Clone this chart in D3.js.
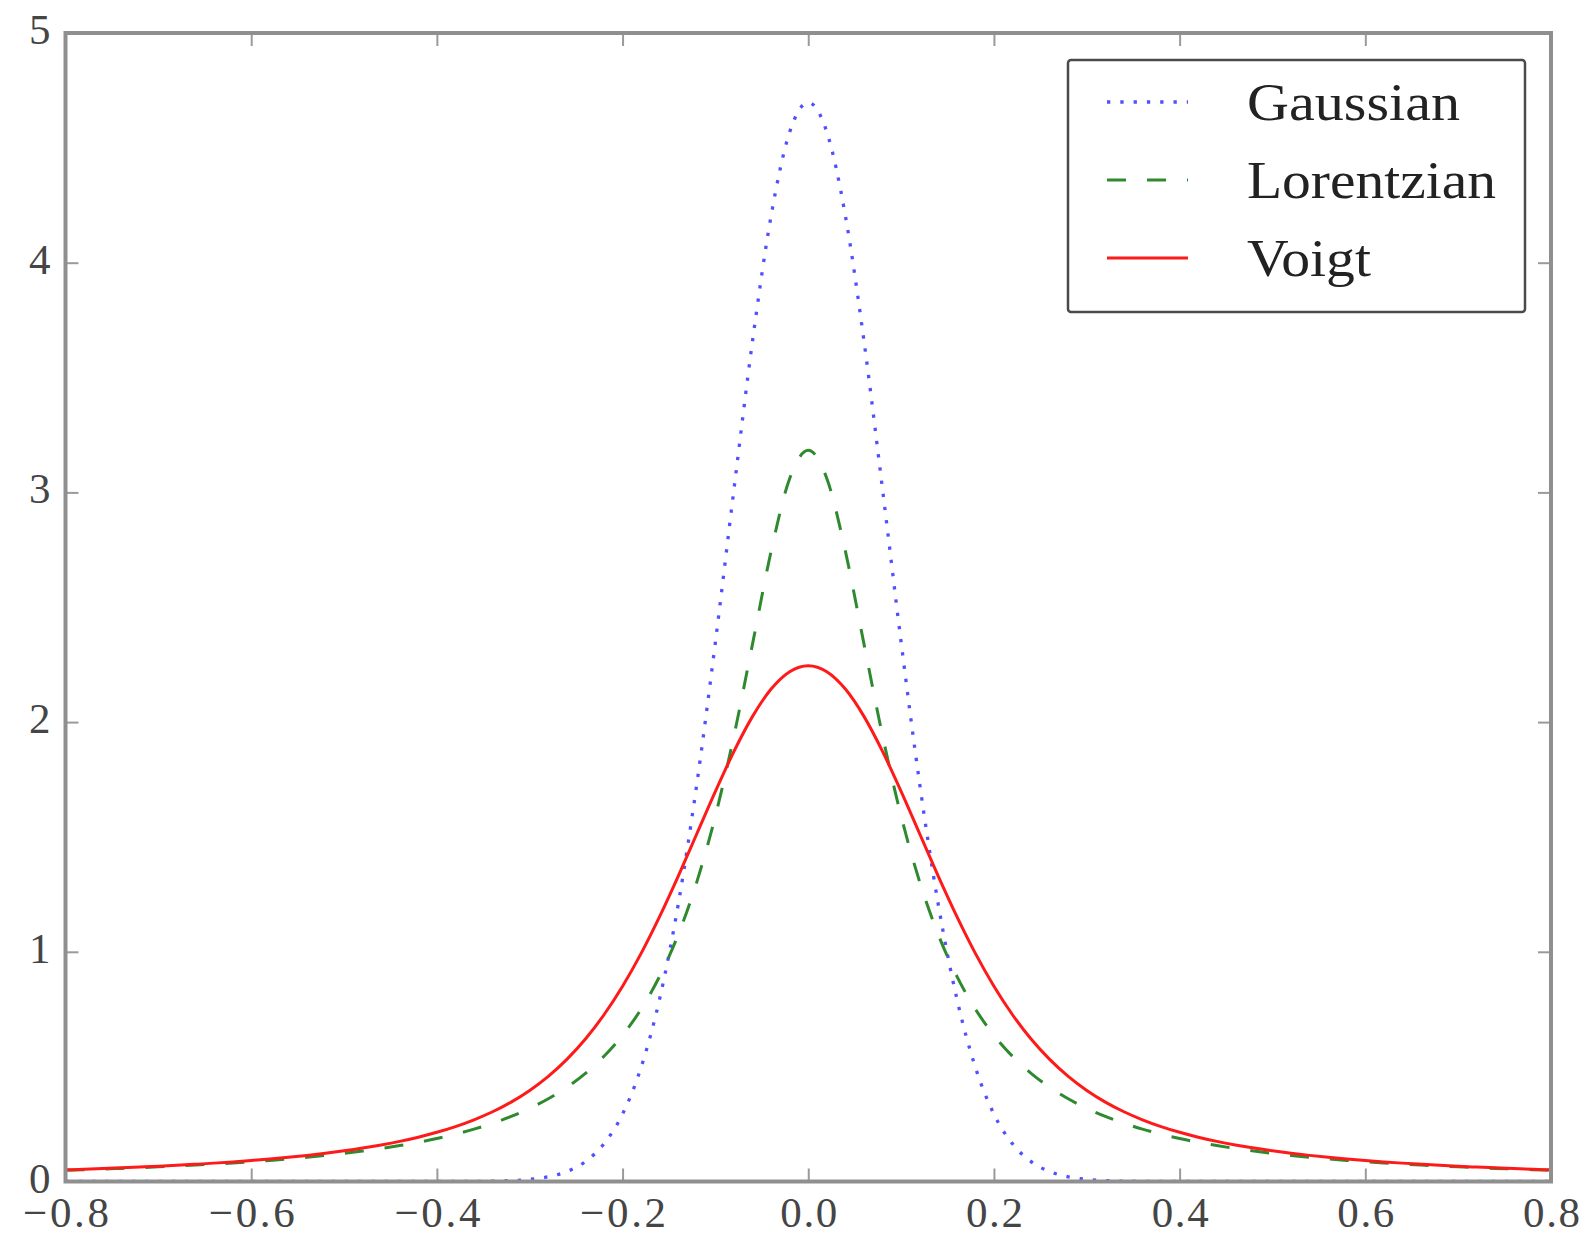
<!DOCTYPE html>
<html>
<head>
<meta charset="utf-8">
<script src="https://cdn.jsdelivr.net/npm/d3@7"></script>
<style>
  html, body { margin: 0; padding: 0; background: #ffffff; }
  svg { display: block; }
  text { font-family: "Liberation Serif", "DejaVu Serif", serif; }
</style>
</head>
<body>
<svg id="chart" width="1585" height="1236"></svg>
<script>
// ---------------- data ----------------
const xValues = [
  -0.80,-0.78,-0.76,-0.74,-0.72,-0.70,-0.68,-0.66,-0.64,-0.62,
  -0.60,-0.58,-0.56,-0.54,-0.52,-0.50,-0.48,-0.46,-0.44,-0.42,
  -0.40,-0.38,-0.36,-0.34,-0.32,-0.30,-0.28,-0.26,-0.24,-0.22,
  -0.20,-0.18,-0.16,-0.14,-0.12,-0.10,-0.08,-0.06,-0.04,-0.02,
   0.00,
   0.02, 0.04, 0.06, 0.08, 0.10, 0.12, 0.14, 0.16, 0.18, 0.20,
   0.22, 0.24, 0.26, 0.28, 0.30, 0.32, 0.34, 0.36, 0.38, 0.40,
   0.42, 0.44, 0.46, 0.48, 0.50, 0.52, 0.54, 0.56, 0.58, 0.60,
   0.62, 0.64, 0.66, 0.68, 0.70, 0.72, 0.74, 0.76, 0.78, 0.80
];

const gaussian = [
  0,0,0,0,0,0,0,0,0,0,
  0,0,0,0,0,0,0,0,0,0,
  0.0001,0.0002,0.0006,0.0016,0.0039,0.0092,0.0205,0.0433,0.0867,0.1640,
  0.2936,0.4972,0.7966,1.2074,1.7313,2.3487,3.0142,3.6600,4.2042,4.5689,
  4.6973,
  4.5689,4.2042,3.6600,3.0142,2.3487,1.7313,1.2074,0.7966,0.4972,0.2936,
  0.1640,0.0867,0.0433,0.0205,0.0092,0.0039,0.0016,0.0006,0.0002,0.0001,
  0,0,0,0,0,0,0,0,0,0,
  0,0,0,0,0,0,0,0,0,0
];

const lorentzian = [
  0.0490,0.0515,0.0542,0.0571,0.0602,0.0637,0.0674,0.0714,0.0759,0.0807,
  0.0860,0.0919,0.0984,0.1055,0.1135,0.1224,0.1324,0.1436,0.1563,0.1708,
  0.1872,0.2062,0.2280,0.2534,0.2832,0.3183,0.3601,0.4102,0.4709,0.5451,
  0.6366,0.7507,0.8941,1.0754,1.3046,1.5915,1.9409,2.3405,2.7441,3.0607,
  3.1831,
  3.0607,2.7441,2.3405,1.9409,1.5915,1.3046,1.0754,0.8941,0.7507,0.6366,
  0.5451,0.4709,0.4102,0.3601,0.3183,0.2832,0.2534,0.2280,0.2062,0.1872,
  0.1708,0.1563,0.1436,0.1324,0.1224,0.1135,0.1055,0.0984,0.0919,0.0860,
  0.0807,0.0759,0.0714,0.0674,0.0637,0.0602,0.0571,0.0542,0.0515,0.0490
];

const voigt = [
  0.0507,0.0533,0.0562,0.0594,0.0628,0.0665,0.0706,0.0751,0.0800,0.0854,
  0.0914,0.0980,0.1054,0.1137,0.1230,0.1335,0.1455,0.1592,0.1748,0.1930,
  0.2142,0.2391,0.2686,0.3036,0.3457,0.3964,0.4576,0.5315,0.6202,0.7260,
  0.8502,0.9933,1.1543,1.3298,1.5139,1.6983,1.8725,2.0249,2.1438,2.2196,
  2.2456,
  2.2196,2.1438,2.0249,1.8725,1.6983,1.5139,1.3298,1.1543,0.9933,0.8502,
  0.7260,0.6202,0.5315,0.4576,0.3964,0.3457,0.3036,0.2686,0.2391,0.2142,
  0.1930,0.1748,0.1592,0.1455,0.1335,0.1230,0.1137,0.1054,0.0980,0.0914,
  0.0854,0.0800,0.0751,0.0706,0.0665,0.0628,0.0594,0.0562,0.0533,0.0507
];

const seriesNames = ["Gaussian", "Lorentzian", "Voigt"];
const xTickValues = [-0.8, -0.6, -0.4, -0.2, 0.0, 0.2, 0.4, 0.6, 0.8];
const xTickLabels = ["\u22120.8", "\u22120.6", "\u22120.4", "\u22120.2", "0.0", "0.2", "0.4", "0.6", "0.8"];
const yTickValues = [0, 1, 2, 3, 4, 5];
const yTickLabels = ["0", "1", "2", "3", "4", "5"];

// ---------------- layout / style ----------------
const W = 1585, H = 1236;
const plot = { left: 65.5, right: 1551, top: 33, bottom: 1181.5 };
const frameColor = "#8f8f8f";
const tickColor = "#9a9a9a";
const textColor = "#454545";

const styles = {
  Gaussian:   { color: "#5050ff", width: 3.3, dash: "3.3,10" },
  Lorentzian: { color: "#2f8a2f", width: 3,   dash: "19,21" },
  Voigt:      { color: "#ff1a1a", width: 3,   dash: null }
};

const svg = d3.select("#chart");
svg.append("rect").attr("width", W).attr("height", H).attr("fill", "#ffffff");

const x = d3.scaleLinear().domain([-0.8, 0.8]).range([plot.left, plot.right]);
const y = d3.scaleLinear().domain([0, 5]).range([plot.bottom, plot.top]);

// clip
svg.append("defs").append("clipPath").attr("id", "clip")
  .append("rect")
  .attr("x", plot.left).attr("y", plot.top)
  .attr("width", plot.right - plot.left).attr("height", plot.bottom - plot.top);

// ---------------- curves ----------------
const seriesData = { Gaussian: gaussian, Lorentzian: lorentzian, Voigt: voigt };
const line = d3.line()
  .x(d => x(d[0]))
  .y(d => y(d[1]))
  .curve(d3.curveMonotoneX);

const curves = svg.append("g").attr("clip-path", "url(#clip)");
seriesNames.forEach(name => {
  const pts = xValues.map((xv, i) => [xv, seriesData[name][i]]);
  const st = styles[name];
  const p = curves.append("path")
    .datum(pts)
    .attr("d", line)
    .attr("fill", "none")
    .attr("stroke", st.color)
    .attr("stroke-width", st.width)
    .attr("stroke-linejoin", "round");
  if (st.dash) p.attr("stroke-dasharray", st.dash).attr("stroke-linecap", "butt");
});

// ---------------- axes (inward ticks on all four sides) ----------------
const tickLen = 13;
function styleAxis(g) {
  g.select(".domain").remove();
  g.selectAll(".tick line").attr("stroke", tickColor).attr("stroke-width", 2);
  g.selectAll(".tick text").attr("fill", textColor)
    .style("font-family", "'Liberation Serif', 'DejaVu Serif', serif")
    .style("font-size", "43px");
}

const labelMapX = new Map(xTickValues.map((v, i) => [v, xTickLabels[i]]));
const labelMapY = new Map(yTickValues.map((v, i) => [v, yTickLabels[i]]));

const gBottom = svg.append("g")
  .attr("transform", `translate(0,${plot.bottom})`)
  .call(d3.axisBottom(x).tickValues(xTickValues).tickSize(-tickLen)
        .tickFormat(v => labelMapX.get(v)));
styleAxis(gBottom);
gBottom.selectAll(".tick text")
  .attr("y", 45).attr("dy", 0)
  .attr("textLength", v => v < 0 ? 86 : 57)
  .attr("lengthAdjust", "spacing");

const gTop = svg.append("g")
  .attr("transform", `translate(0,${plot.top})`)
  .call(d3.axisTop(x).tickValues(xTickValues).tickSize(-tickLen).tickFormat(""));
styleAxis(gTop);

const gLeft = svg.append("g")
  .attr("transform", `translate(${plot.left},0)`)
  .call(d3.axisLeft(y).tickValues(yTickValues).tickSize(-tickLen)
        .tickFormat(v => labelMapY.get(v)));
styleAxis(gLeft);
gLeft.selectAll(".tick text").attr("x", -15).attr("dy", 0).attr("y", 10.5);

const gRight = svg.append("g")
  .attr("transform", `translate(${plot.right},0)`)
  .call(d3.axisRight(y).tickValues(yTickValues).tickSize(-tickLen).tickFormat(""));
styleAxis(gRight);

// frame
svg.append("rect")
  .attr("x", plot.left).attr("y", plot.top)
  .attr("width", plot.right - plot.left).attr("height", plot.bottom - plot.top)
  .attr("fill", "none").attr("stroke", frameColor).attr("stroke-width", 4);

// ---------------- legend ----------------
const legend = svg.append("g");
legend.append("rect")
  .attr("x", 1068).attr("y", 60).attr("width", 457).attr("height", 252)
  .attr("rx", 3).attr("ry", 3)
  .attr("fill", "#ffffff").attr("stroke", "#4a4a4a").attr("stroke-width", 2.5);

const legendRowY = [102, 180, 258];
const legendTextLen = { Gaussian: 213, Lorentzian: 249, Voigt: 124 };
seriesNames.forEach((name, i) => {
  const st = styles[name];
  const ly = legendRowY[i];
  const l = legend.append("line")
    .attr("x1", 1107).attr("x2", 1188).attr("y1", ly).attr("y2", ly)
    .attr("stroke", st.color).attr("stroke-width", st.width);
  if (st.dash) l.attr("stroke-dasharray", st.dash);
  legend.append("text")
    .attr("x", 1247).attr("y", ly + 18)
    .attr("fill", "#222222")
    .style("font-size", "53px")
    .attr("textLength", legendTextLen[name])
    .attr("lengthAdjust", "spacingAndGlyphs")
    .text(name);
});
</script>
</body>
</html>
